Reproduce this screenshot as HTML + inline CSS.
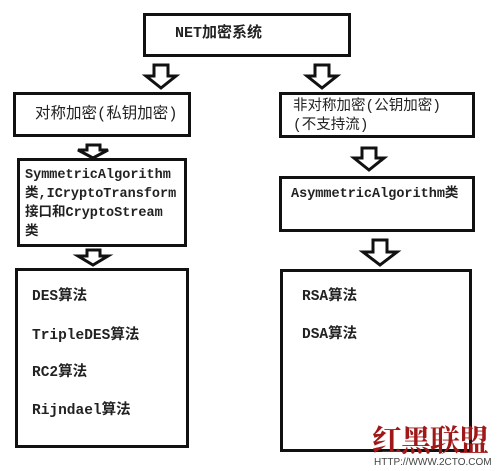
<!DOCTYPE html>
<html><head><meta charset="utf-8"><style>
body{margin:0;width:500px;height:471px;background:#fff;overflow:hidden;position:relative;font-family:"Liberation Mono","Noto Sans CJK SC",monospace;font-weight:bold;color:#222}
.b{position:absolute;border:3px solid #111;box-sizing:border-box}
.t{position:absolute;font-size:13.5px;white-space:nowrap;line-height:19px}
.m{font-size:14.5px}
</style></head><body>
<svg width="500" height="471" style="position:absolute;left:0;top:0">
<g fill="#fff" stroke="#111" stroke-width="3" stroke-linejoin="miter">
<polygon points="154,65 168,65 168,76 176,76 161,88 146,76 154,76"/>
<polygon points="315,65 329,65 329,76 337,76 322,88 307,76 315,76"/>
<polygon points="87,145 100,145 100,150 108,150 93,158 78,150 87,150"/>
<polygon points="362,148 376,148 376,158 384,158 369,170 354,158 362,158"/>
<polygon points="87,250 100,250 100,256 108,256 93,265 78,256 87,256"/>
<polygon points="373,240 387,240 387,252 397,252 380,265 363,252 373,252"/>
</g>
</svg>
<div class="b" style="left:143px;top:13px;width:208px;height:44px"></div>
<div class="t" style="left:175px;top:24px;font-size:15px">NET加密系统</div>
<div class="b" style="left:13px;top:92px;width:178px;height:45px"></div>
<div class="t" style="left:35px;top:105px;font-size:15.5px;font-weight:normal">对称加密(私钥加密)</div>
<div class="b" style="left:279px;top:92px;width:196px;height:46px"></div>
<div class="t" style="left:293px;top:98px;font-size:14.5px;font-weight:normal;line-height:19px">非对称加密(公钥加密)<br>(不支持流)</div>
<div class="b" style="left:17px;top:158px;width:170px;height:89px"></div>
<div class="t" style="left:25px;top:166px">SymmetricAlgorithm<br>类,ICryptoTransform<br>接口和CryptoStream<br>类</div>
<div class="b" style="left:279px;top:176px;width:196px;height:56px"></div>
<div class="t" style="left:291px;top:185px">AsymmetricAlgorithm类</div>
<div class="b" style="left:15px;top:268px;width:174px;height:180px"></div>
<div class="t m" style="left:32px;top:288px">DES算法</div>
<div class="t m" style="left:32px;top:327px">TripleDES算法</div>
<div class="t m" style="left:32px;top:364px">RC2算法</div>
<div class="t m" style="left:32px;top:402px">Rijndael算法</div>
<div class="b" style="left:280px;top:269px;width:192px;height:183px"></div>
<div class="t m" style="left:302px;top:288px">RSA算法</div>
<div class="t m" style="left:302px;top:326px">DSA算法</div>
<div style="position:absolute;left:372px;top:420px;font-family:'Noto Serif CJK SC',serif;font-size:30px;color:#a01818;letter-spacing:-1px;line-height:36px">红黑联盟</div>
<div style="position:absolute;left:374px;top:457px;font-family:'Liberation Sans',sans-serif;font-weight:normal;font-size:10px;color:#444">HTTP://WWW.2CTO.COM</div>
</body></html>
